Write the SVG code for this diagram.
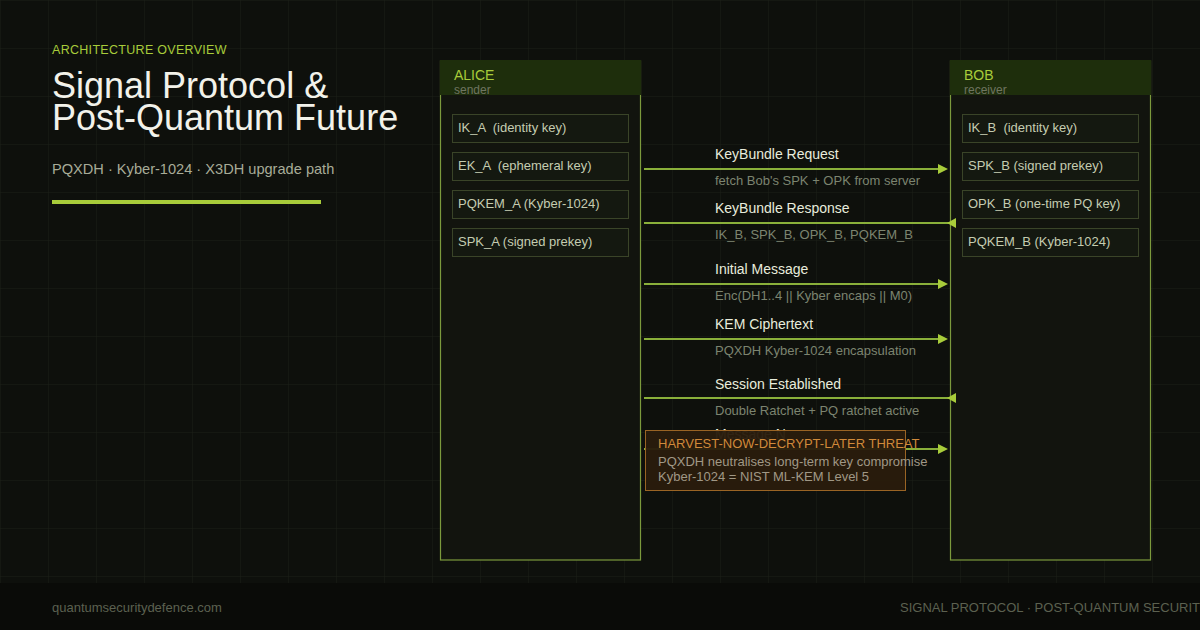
<svg xmlns="http://www.w3.org/2000/svg" width="1200" height="630" viewBox="0 0 1200 630">
<defs>
<pattern id="grid" width="48" height="48" patternUnits="userSpaceOnUse">
<path d="M48 0 L0 0 0 48" fill="none" stroke="#1c2018" stroke-width="1"/>
</pattern>
<style>
text{font-family:"Liberation Sans",Arial,sans-serif}
.frame{fill:#12140e;stroke:#7c9a3c;stroke-width:1.2}
.head{fill:#1e2e0c}
.actor{font-size:14px;fill:#a8cc3a}
.role{font-size:12px;fill:#6f7560}
.key rect{fill:#141810;stroke:#3a4428;stroke-width:1}
.key text{font-size:13px;fill:#c4ccb0;white-space:pre}
.msg line{stroke:#8ab03a;stroke-width:2}
.msg polygon{fill:#a8cc3a}
.lbl{font-size:14px;fill:#e8ecdc}
.sub{font-size:13px;fill:#7c8470}
.foot{font-size:13px;fill:#5c6150}
</style>
</defs>
<rect width="1200" height="630" fill="#0e100c"/>
<rect width="1200" height="583" fill="url(#grid)"/>
<rect y="583" width="1200" height="47" fill="#0a0b08"/>

<g id="title">
<text x="52" y="54" font-size="12.5" letter-spacing="0.3" fill="#a8cc3a">ARCHITECTURE OVERVIEW</text>
<text x="52" y="98" font-size="36" fill="#f2f2ea">Signal Protocol &amp;</text>
<text x="52" y="130" font-size="36" fill="#f2f2ea">Post-Quantum Future</text>
<text x="52" y="174" font-size="14.6" fill="#a8ac98">PQXDH · Kyber-1024 · X3DH upgrade path</text>
<rect x="52" y="200" width="269" height="4" fill="#a8cc3a"/>
</g>

<g id="alice">
<rect class="frame" x="440.5" y="61" width="200" height="499"/>
<rect class="head" x="440" y="60" width="201" height="35"/>
<text class="actor" x="454" y="80">ALICE</text>
<text class="role" x="454" y="94">sender</text>
<g class="key" id="ik_a"><rect x="452.5" y="114.5" width="176" height="28"/><text x="458" y="132">IK_A  (identity key)</text></g>
<g class="key" id="ek_a"><rect x="452.5" y="152.5" width="176" height="28"/><text x="458" y="170">EK_A  (ephemeral key)</text></g>
<g class="key" id="pqkem_a"><rect x="452.5" y="190.5" width="176" height="28"/><text x="458" y="208">PQKEM_A (Kyber-1024)</text></g>
<g class="key" id="spk_a"><rect x="452.5" y="228.5" width="176" height="28"/><text x="458" y="246">SPK_A (signed prekey)</text></g>
</g>

<g id="bob">
<rect class="frame" x="950.5" y="61" width="200" height="499"/>
<rect class="head" x="950" y="60" width="201" height="35"/>
<text class="actor" x="964" y="80">BOB</text>
<text class="role" x="964" y="94">receiver</text>
<g class="key" id="ik_b"><rect x="962.5" y="114.5" width="176" height="28"/><text x="968" y="132">IK_B  (identity key)</text></g>
<g class="key" id="spk_b"><rect x="962.5" y="152.5" width="176" height="28"/><text x="968" y="170">SPK_B (signed prekey)</text></g>
<g class="key" id="opk_b"><rect x="962.5" y="190.5" width="176" height="28"/><text x="968" y="208">OPK_B (one-time PQ key)</text></g>
<g class="key" id="pqkem_b"><rect x="962.5" y="228.5" width="176" height="28"/><text x="968" y="246">PQKEM_B (Kyber-1024)</text></g>
</g>

<g id="connectors">
<g class="msg" id="m1">
<line x1="644" y1="169" x2="940" y2="169"/><polygon points="938,164 948,169 938,174"/>
<text class="lbl" x="715" y="159">KeyBundle Request</text>
<text class="sub" x="715" y="185">fetch Bob's SPK + OPK from server</text>
</g>
<g class="msg" id="m2">
<line x1="644" y1="223" x2="956" y2="223"/><polygon points="956,218 947,223 956,228"/>
<text class="lbl" x="715" y="213">KeyBundle Response</text>
<text class="sub" x="715" y="239">IK_B, SPK_B, OPK_B, PQKEM_B</text>
</g>
<g class="msg" id="m3">
<line x1="644" y1="284" x2="940" y2="284"/><polygon points="938,279 948,284 938,289"/>
<text class="lbl" x="715" y="274">Initial Message</text>
<text class="sub" x="715" y="300">Enc(DH1..4 || Kyber encaps || M0)</text>
</g>
<g class="msg" id="m4">
<line x1="644" y1="339" x2="940" y2="339"/><polygon points="938,334 948,339 938,344"/>
<text class="lbl" x="715" y="329">KEM Ciphertext</text>
<text class="sub" x="715" y="355">PQXDH Kyber-1024 encapsulation</text>
</g>
<g class="msg" id="m5">
<line x1="644" y1="398" x2="956" y2="398"/><polygon points="956,393 947,398 956,403"/>
<text class="lbl" x="715" y="389">Session Established</text>
<text class="sub" x="715" y="415">Double Ratchet + PQ ratchet active</text>
</g>
<g class="msg" id="m6">
<line x1="644" y1="449" x2="940" y2="449"/><polygon points="938,444 948,449 938,454"/>
<text class="lbl" x="715" y="439">Message N</text>
</g>
</g>

<g id="threat">
<rect x="645.5" y="430.5" width="260" height="60" fill="#2a1c0c" fill-opacity="0.96" stroke="#9a6424" stroke-width="1"/>
<text x="658" y="448" font-size="13" fill="#d08a3a">HARVEST-NOW-DECRYPT-LATER THREAT</text>
<text x="658" y="466" font-size="13" fill="#a09886">PQXDH neutralises long-term key compromise</text>
<text x="658" y="481" font-size="13" fill="#a09886">Kyber-1024 = NIST ML-KEM Level 5</text>
</g>

<g id="footer">
<text class="foot" x="52" y="612">quantumsecuritydefence.com</text>
<text class="foot" x="900" y="612">SIGNAL PROTOCOL · POST-QUANTUM SECURITY</text>
</g>
</svg>
